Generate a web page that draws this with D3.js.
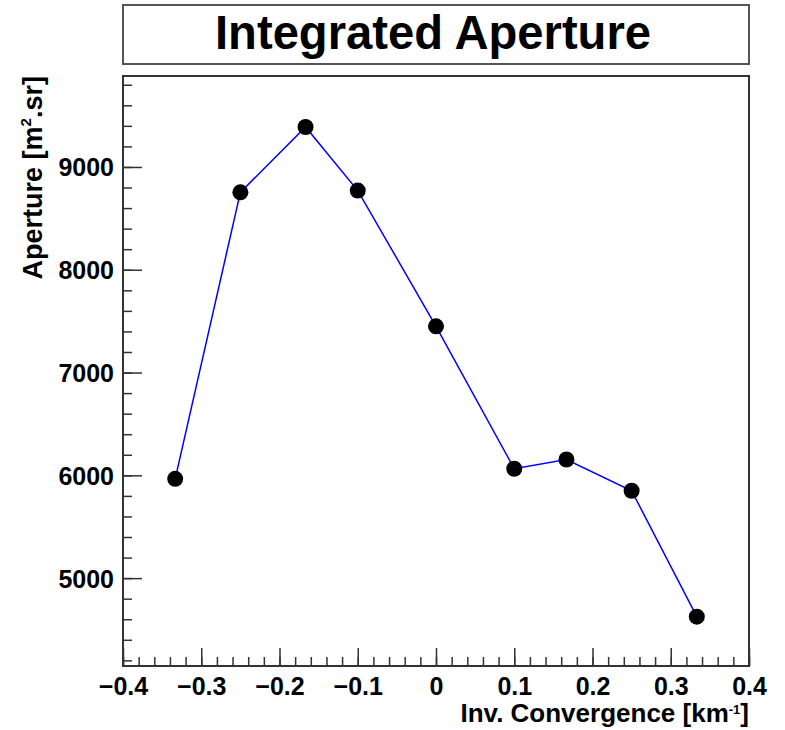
<!DOCTYPE html>
<html>
<head>
<meta charset="utf-8">
<script src="https://cdn.jsdelivr.net/npm/d3@7"></script>
<style>
  html, body { margin: 0; padding: 0; background: #fff; }
  svg { display: block; }
  text { font-family: "Liberation Sans", Arial, Helvetica, sans-serif; font-weight: bold; fill: #000; }
</style>
</head>
<body>
<svg id="chart" width="785" height="730"></svg>
<script>
// ---- data ----
const invConvergence = [-0.3333, -0.25, -0.1667, -0.1, 0, 0.1, 0.1667, 0.25, 0.3333];
const aperture = [5966, 8753, 9389, 8770, 7450, 6064, 6154, 5850, 4625];
const xTickValues = [-0.4, -0.3, -0.2, -0.1, 0, 0.1, 0.2, 0.3, 0.4];
const yTickValues = [5000, 6000, 7000, 8000, 9000];
const titleText = "Integrated Aperture";
const xTitle = "Inv. Convergence [km";
const yTitle = "Aperture [m";

// ---- layout ----
const L = 123, R = 749, T = 76, B = 666;
const svg = d3.select("#chart");

const x = d3.scaleLinear().domain([-0.4, 0.4]).range([L, R]);
const y = d3.scaleLinear().domain([4145, 9885]).range([B, T]);

// title box
svg.append("rect").attr("x", 123).attr("y", 5).attr("width", 626).attr("height", 59)
  .attr("fill", "#fff").attr("stroke", "#555").attr("stroke-width", 2);
svg.append("text").attr("x", 433).attr("y", 49).attr("text-anchor", "middle")
  .attr("textLength", 436).attr("lengthAdjust", "spacingAndGlyphs")
  .style("font-size", "48px").text(titleText);

// frame
svg.append("rect").attr("x", L).attr("y", T).attr("width", R - L).attr("height", B - T)
  .attr("fill", "#fff").attr("stroke", "#333").attr("stroke-width", 2);

// minor ticks
const xMinor = d3.range(-0.4, 0.4001, 0.02).map(v => +v.toFixed(2));
const yMinor = d3.range(4200, 9801, 200);

const fmtX = v => (v < 0 ? "\u2212" : "") + (v === 0 ? "0" : Math.abs(v).toFixed(1));

// x axis (ticks pointing up, inside)
const gx = svg.append("g").attr("transform", `translate(0,${B})`);
gx.call(d3.axisBottom(x).tickValues(xMinor).tickSize(-9).tickFormat(""));
gx.call(g => g.select(".domain").remove());
const gx2 = svg.append("g").attr("transform", `translate(0,${B})`);
gx2.call(d3.axisBottom(x).tickValues(xTickValues).tickSizeInner(-18).tickSizeOuter(0).tickPadding(30).tickFormat(fmtX));
gx2.select(".domain").remove();
svg.selectAll("g.tick line").attr("stroke", "#333").attr("stroke-width", 1.5);
gx2.selectAll("text").attr("y", 29).attr("dy", 0).style("font-size", "25px").attr("fill", "#000");

// y axis (ticks pointing right, inside)
const gy = svg.append("g").attr("transform", `translate(${L},0)`);
gy.call(d3.axisLeft(y).tickValues(yMinor).tickSize(-9).tickFormat(""));
gy.select(".domain").remove();
const gy2 = svg.append("g").attr("transform", `translate(${L},0)`);
gy2.call(d3.axisLeft(y).tickValues(yTickValues).tickSizeInner(-19).tickSizeOuter(0).tickPadding(9).tickFormat(d3.format("d")));
gy2.select(".domain").remove();
svg.selectAll("g.tick line").attr("stroke", "#333").attr("stroke-width", 1.5);
gy2.selectAll("text").attr("x", -9).attr("dy", "0.36em").style("font-size", "25px").attr("fill", "#000");

// axis titles
const xt = svg.append("text").attr("x", R).attr("y", 722).attr("text-anchor", "end").style("font-size", "26px");
xt.append("tspan").text(xTitle);
xt.append("tspan").attr("dy", -8).style("font-size", "13px").text("-1");
xt.append("tspan").attr("dy", 8).text("]");

const yt = svg.append("text").attr("transform", `translate(42,${T}) rotate(-90)`)
  .attr("text-anchor", "end").style("font-size", "27px");
yt.append("tspan").text(yTitle);
yt.append("tspan").attr("dy", -11).style("font-size", "15px").text("2");
yt.append("tspan").attr("dy", 11).text(".sr]");

// line
const pts = invConvergence.map((v, i) => [v, aperture[i]]);
svg.append("path").datum(pts)
  .attr("d", d3.line().x(d => x(d[0])).y(d => y(d[1])))
  .attr("fill", "none").attr("stroke", "#0000ff").attr("stroke-width", 1.5);

// markers
svg.append("g").selectAll("circle").data(pts).join("circle")
  .attr("cx", d => x(d[0])).attr("cy", d => y(d[1])).attr("r", 8).attr("fill", "#000");
</script>
</body>
</html>
